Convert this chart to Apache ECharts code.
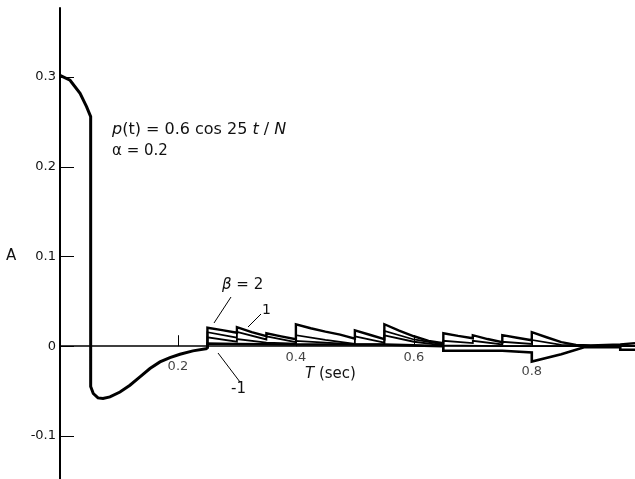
<!DOCTYPE html>
<html>
<head>
<meta charset="utf-8">
<script src="https://cdn.jsdelivr.net/npm/echarts@6/dist/echarts.min.js"></script>
<style>
html,body{margin:0;padding:0;background:#fff;}
#c{width:635px;height:479px;}
</style>
</head>
<body>
<div id="c"></div>
<script>
// ---- data ----
var yTicks = [-0.1, 0, 0.1, 0.2, 0.3];
var xTicks = [0.2, 0.4, 0.6, 0.8];
var xTickLabels = ['0.2', '0.4', '0.6', '0.8'];

var mainCurve = [
  [0, 0.302], [0.017, 0.2965], [0.034, 0.282], [0.045, 0.267], [0.052, 0.256],
  [0.052, -0.045], [0.0564, -0.0527], [0.0644, -0.0576], [0.0729, -0.0583],
  [0.0847, -0.0565], [0.1017, -0.051], [0.1186, -0.0435], [0.1356, -0.0342],
  [0.1525, -0.0249], [0.1695, -0.0175], [0.1864, -0.0126], [0.2034, -0.0089],
  [0.2254, -0.0052], [0.25, -0.0026]
];

var beta2 = [
  [0.25, -0.0026], [0.25, 0.0206], [0.275, 0.018], [0.30, 0.0150],
  [0.30, 0.0212], [0.325, 0.0158], [0.35, 0.0111],
  [0.35, 0.0145], [0.375, 0.011], [0.40, 0.0078],
  [0.40, 0.0245], [0.425, 0.020], [0.45, 0.0162],
  [0.45, 0.0184], [0.475, 0.013], [0.50, 0.0084],
  [0.50, 0.0178], [0.525, 0.0128], [0.55, 0.0078],
  [0.55, 0.0245], [0.575, 0.0175], [0.60, 0.0111], [0.625, 0.006], [0.65, 0.0033],
  [0.65, 0.0145], [0.675, 0.0115], [0.70, 0.0089],
  [0.70, 0.0123], [0.725, 0.008], [0.75, 0.0045],
  [0.75, 0.0123], [0.775, 0.0095], [0.80, 0.0067],
  [0.80, 0.0156], [0.825, 0.010], [0.85, 0.0045], [0.875, 0.0015], [0.90, 0.001],
  [0.90, 0.0025], [0.95, 0.002], [0.95, 0.004], [0.975, 0.0035]
];

var beta1 = [
  [0.25, -0.0026], [0.25, 0.0156], [0.30, 0.0095],
  [0.30, 0.0160], [0.35, 0.0075],
  [0.35, 0.0110], [0.40, 0.0045],
  [0.40, 0.0123], [0.45, 0.0070], [0.50, 0.0025],
  [0.50, 0.0110], [0.55, 0.0040],
  [0.55, 0.0170], [0.60, 0.0075], [0.65, 0.0020],
  [0.65, 0.0060], [0.70, 0.0035],
  [0.70, 0.0060], [0.75, 0.0020],
  [0.75, 0.0050], [0.80, 0.0025],
  [0.80, 0.0070], [0.85, 0.0015], [0.90, 0.0005], [0.975, 0.0005]
];

var beta0 = [
  [0.25, -0.0026], [0.25, 0.010], [0.30, 0.005],
  [0.30, 0.008], [0.35, 0.004],
  [0.35, 0.006], [0.40, 0.003],
  [0.40, 0.006], [0.45, 0.004], [0.50, 0.002],
  [0.50, 0.004], [0.55, 0.002],
  [0.55, 0.012], [0.60, 0.005], [0.65, 0.001],
  [0.75, 0.0], [0.80, 0.0], [0.90, 0.0], [0.975, 0.0]
];

var betaM1 = [
  [0.25, -0.0026], [0.25, 0.003], [0.30, 0.0025], [0.40, 0.002], [0.50, 0.002],
  [0.55, 0.002], [0.60, 0.001], [0.65, 0.0],
  [0.65, -0.005], [0.70, -0.005], [0.75, -0.005],
  [0.75, -0.007], [0.80, -0.007],
  [0.80, -0.017], [0.85, -0.009], [0.89, -0.001], [0.95, -0.001],
  [0.95, -0.004], [0.975, -0.004]
];

// ---- chart ----
var FONT = 'DejaVu Sans';
var chart = echarts.init(document.getElementById('c'), null, {renderer: 'canvas'});

function lineSeries(name, data, w) {
  return {
    name: name, type: 'line', data: data, showSymbol: false, symbol: 'none',
    lineStyle: {color: '#000', width: w, join: 'miter'}, silent: true, animation: false, z: 3
  };
}

// per-label vertical offset below the zero line (as in the original figure)
var xLabelOffsets = [14, 5, 5, 19];
var labelStyle = {fontFamily: FONT, fontSize: 13, color: '#111', textBorderWidth: 0, fontWeight: 'normal'};
var tickLabelData = xTicks.map(function (x, i) {
  return {
    value: [x, 0],
    label: Object.assign({show: true, position: 'bottom', distance: 0,
      formatter: xTickLabels[i], offset: [0, xLabelOffsets[i]]}, labelStyle)
  };
});

chart.setOption({
  animation: false,
  backgroundColor: '#fff',
  grid: {left: 60, right: 0, top: 8, bottom: 0, containLabel: false, outerBoundsMode: 'none'},
  xAxis: {
    type: 'value', min: 0, max: 0.975,
    axisLine: {onZero: true, lineStyle: {color: '#000', width: 1.5}},
    axisTick: {show: true, inside: true, length: 11, customValues: xTicks, lineStyle: {color: '#000', width: 1}},
    axisLabel: {show: false},
    splitLine: {show: false}
  },
  yAxis: {
    type: 'value', min: -0.148, max: 0.377,
    axisLine: {show: true, onZero: true, lineStyle: {color: '#000', width: 2}},
    axisTick: {show: true, inside: true, length: 14, customValues: yTicks, lineStyle: {color: '#000', width: 1}},
    axisLabel: {
      show: true, margin: 4, customValues: yTicks,
      fontFamily: FONT, fontSize: 13, color: '#111',
      formatter: function (v) { return Math.abs(v) < 1e-9 ? '0' : v.toFixed(1); }
    },
    splitLine: {show: false}
  },
  series: [
    lineSeries('main', mainCurve, 3),
    lineSeries('beta=-1', betaM1, 2.6),
    lineSeries('beta=0', beta0, 1.8),
    lineSeries('beta=1', beta1, 1.8),
    lineSeries('beta=2', beta2, 2.4),
    {
      name: 'xlabels', type: 'scatter', data: tickLabelData, symbolSize: 0, silent: true, z: 1,
      label: Object.assign({show: true, position: 'bottom', distance: 0}, labelStyle),
      emphasis: {disabled: true}
    }
  ],
  graphic: [
    {type: 'text', left: 6, top: 249, style: {text: 'A', font: '15px ' + FONT, fill: '#111'}},
    {type: 'text', left: 112, top: 122, style: {
      text: '{i|p}(t) = 0.6 cos 25 {i|t} / {i|N}',
      font: '16px ' + FONT, fill: '#111',
      rich: {i: {fontStyle: 'italic', fontFamily: FONT, fontSize: 16, fill: '#111'}}
    }},
    {type: 'text', left: 112, top: 144, style: {text: 'α = 0.2', font: '15px ' + FONT, fill: '#111'}},
    {type: 'text', left: 222, top: 278, style: {text: '{i|β} = 2', font: '15px ' + FONT, fill: '#111',
      rich: {i: {fontStyle: 'italic', fontFamily: FONT, fontSize: 15, fill: '#111'}}}},
    {type: 'text', left: 262, top: 303, style: {text: '1', font: '14px ' + FONT, fill: '#111'}},
    {type: 'text', left: 231, top: 382, style: {text: '-1', font: '15px ' + FONT, fill: '#111'}},
    {type: 'text', left: 305, top: 367, style: {text: '{i|T} (sec)', font: '15px ' + FONT, fill: '#111',
      rich: {i: {fontStyle: 'italic', fontFamily: FONT, fontSize: 15, fill: '#111'}}}},
    {type: 'line', shape: {x1: 231, y1: 297, x2: 214, y2: 323}, style: {stroke: '#000', lineWidth: 1}},
    {type: 'line', shape: {x1: 261, y1: 314, x2: 248, y2: 327}, style: {stroke: '#000', lineWidth: 1}},
    {type: 'line', shape: {x1: 218, y1: 353, x2: 240, y2: 382}, style: {stroke: '#000', lineWidth: 1}}
  ]
});
</script>
</body>
</html>
